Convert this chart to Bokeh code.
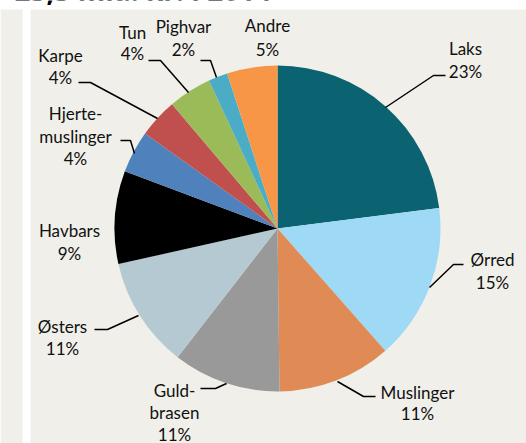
import math
from bokeh.plotting import figure
from bokeh.models import Range1d, ColumnDataSource
from bokeh.core.properties import value
from bokeh.embed import file_html
from bokeh.resources import INLINE

# ---- data ----
categories = ["Laks", "Ørred", "Muslinger", "Guldbrasen", "Østers", "Havbars",
              "Hjertemuslinger", "Karpe", "Tun", "Pighvar", "Andre"]
shares = [23.0, 15.5, 11.3, 10.7, 11.0, 9.2, 4.2, 3.9, 4.3, 1.9, 5.0]
pct_labels = ["23%", "15%", "11%", "11%", "11%", "9%", "4%", "4%", "4%", "2%", "5%"]
name_lines = [["Laks"], ["Ørred"], ["Muslinger"], ["Guld-", "brasen"], ["Østers"],
              ["Havbars"], ["Hjerte-", "muslinger"], ["Karpe"], ["Tun"], ["Pighvar"], ["Andre"]]
colors = ["#0b6270", "#9ed9f5", "#e08a55", "#999999", "#b4c9d1", "#000000",
          "#4f81bd", "#c0504d", "#9bbb59", "#4bacc6", "#f79646"]
title_text = "25,5 mia. kr. i 2014"

# ---- layout (pixel coords, y from top) ----
W, H = 526, 443
BG = "#f0efe9"
CX, CY, R = 277, 228, 163
label_pos = [
    (465, [48, 71]),
    (492, [259, 282]),
    (417, [392, 413]),
    (174, [390, 412, 434]),
    (62, [326, 348]),
    (69, [230, 253]),
    (75, [113, 136, 158]),
    (60, [55, 77]),
    (132, [32, 53]),
    (183, [26, 49]),
    (267, [25, 49]),
]
leaders = [
    [(385, 107), (433, 75), (445, 75)],
    [(429, 287), (453, 264), (463, 264)],
    [(337, 381), (363, 396), (375, 396)],
    [(226, 383), (215, 388), (200, 388)],
    [(138, 315), (107, 329), (94, 329)],
    None,
    [(120, 140), (130, 140), (134, 153)],
    [(78, 82), (90, 82), (157, 118)],
    [(148, 60), (160, 60), (188, 92)],
    [(200, 60), (210, 60), (216, 77)],
    None,
]

def fy(y):
    return H - y

p = figure(width=W, height=H, x_range=Range1d(0, W), y_range=Range1d(0, H),
           output_backend="svg", toolbar_location=None, min_border=0,
           background_fill_color="white", border_fill_color="white",
           outline_line_color=None)
p.axis.visible = False
p.grid.visible = False

# background panels
p.quad(left=[0, 30], right=[22, W], top=[fy(9), fy(9)], bottom=[0, 0],
       fill_color=BG, line_color=None)

# title (cut at top)
p.text(x=[14], y=[fy(8)], text=[title_text], text_font=value("Open Sans"),
       text_font_style="bold", text_font_size="28px", text_baseline="bottom",
       text_align="left", text_color="black")

# pie
total = sum(shares)
starts, ends = [], []
cum = 0.0
for s in shares:
    starts.append(math.pi / 2 - 2 * math.pi * cum / total)
    cum += s
    ends.append(math.pi / 2 - 2 * math.pi * cum / total)
src = ColumnDataSource(dict(start=starts, end=ends, color=colors,
                            x=[CX] * len(shares), y=[fy(CY)] * len(shares)))
p.wedge(x="x", y="y", radius=R, start_angle="start", end_angle="end",
        direction="clock", fill_color="color", line_color=None, source=src)

# leader lines
for ld in leaders:
    if ld:
        p.line([a for a, b in ld], [fy(b) for a, b in ld], line_color="black", line_width=1.5)

# labels
tx, ty, tt = [], [], []
for (lx, ys), names, pct in zip(label_pos, name_lines, pct_labels):
    lines = names + [pct]
    for yy, t in zip(ys, lines):
        tx.append(lx); ty.append(fy(yy)); tt.append(t)
p.text(x=tx, y=ty, text=tt, text_font=value("Lato"), text_font_size="17px",
       text_align="center", text_baseline="middle", text_color="#111111")

open("out.html", "w").write(file_html(p, INLINE))
